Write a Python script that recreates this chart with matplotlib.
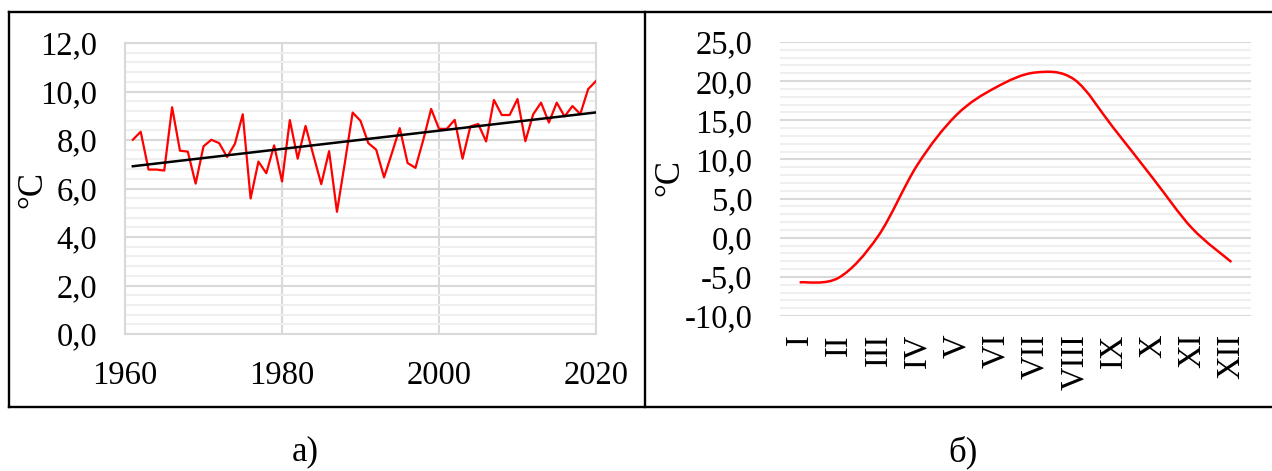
import numpy as np
import matplotlib.pyplot as plt
from matplotlib.path import Path
from matplotlib.patches import PathPatch
from matplotlib.ticker import MultipleLocator, FuncFormatter

plt.rcParams['font.family'] = ['Liberation Serif', 'DejaVu Serif']

# annual mean temperature, 1961-2020
years = list(range(1961, 2021))
t_year = [8.01, 8.34, 6.78, 6.78, 6.74, 9.35, 7.56, 7.52, 6.20, 7.74,
          8.01, 7.87, 7.30, 7.84, 9.06, 5.59, 7.11, 6.63, 7.78, 6.29,
          8.82, 7.23, 8.58, 7.37, 6.18, 7.54, 5.04, 7.05, 9.13, 8.79,
          7.87, 7.60, 6.46, 7.46, 8.49, 7.05, 6.85, 8.01, 9.28, 8.46,
          8.46, 8.83, 7.23, 8.56, 8.66, 7.94, 9.65, 9.03, 9.03, 9.69,
          7.95, 9.06, 9.54, 8.72, 9.54, 8.97, 9.40, 9.07, 10.10, 10.43]

# mean monthly temperature
months = ['I', 'II', 'III', 'IV', 'V', 'VI', 'VII', 'VIII', 'IX', 'X', 'XI', 'XII']
t_month = [-5.7, -5.1, 0.2, 9.3, 15.7, 19.2, 21.1, 20.2, 14.0, 7.6, 1.2, -3.1]

W, H = 1272, 471
fig = plt.figure(figsize=(W / 100, H / 100), dpi=100)

comma = FuncFormatter(lambda v, p: f'{v:.1f}'.replace('.', ','))
fs = 23.5
major_c, minor_c = '#d9d9d9', '#efefef'

# ---- left panel
ax1 = fig.add_axes([125 / W, 1 - 334 / H, 471 / W, 291 / H])
ax1.plot(years, t_year, color='red', lw=1.6, zorder=3)
k, b = np.polyfit(years, t_year, 1)
yy = np.array([years[0], years[-1]])
ax1.plot(yy, k * yy + b, color='black', lw=1.8, zorder=4)
ax1.set_xlim(1960, 2020)
ax1.set_ylim(0, 12)
ax1.xaxis.set_major_locator(MultipleLocator(20))
ax1.yaxis.set_major_locator(MultipleLocator(2))
ax1.yaxis.set_minor_locator(MultipleLocator(0.4))
ax1.yaxis.set_major_formatter(comma)
ax1.grid(which='major', color=major_c, lw=1.5)
ax1.grid(which='minor', axis='y', color=minor_c, lw=1.5)
ax1.set_axisbelow(True)
for s in ax1.spines.values():
    s.set_color(major_c)
    s.set_linewidth(1.5)
ax1.tick_params(which='both', length=0, labelsize=fs)
ax1.tick_params(axis='y', pad=20)
ax1.tick_params(axis='x', pad=19)

# ---- right panel
ax2 = fig.add_axes([780 / W, 1 - 316 / H, 471 / W, 274 / H])
x = np.arange(len(months))
y = np.array(t_month, dtype=float)
# smoothed line (Bezier through the points, like a spreadsheet "smooth line")
xp = np.concatenate([[x[0]], x, [x[-1]]])
yp = np.concatenate([[y[0]], y, [y[-1]]])
verts = [(x[0], y[0])]
codes = [Path.MOVETO]
for i in range(len(x) - 1):
    j = i + 1
    c1 = (xp[j] + (xp[j + 1] - xp[j - 1]) / 6, yp[j] + (yp[j + 1] - yp[j - 1]) / 6)
    c2 = (xp[j + 1] - (xp[j + 2] - xp[j]) / 6, yp[j + 1] - (yp[j + 2] - yp[j]) / 6)
    verts += [c1, c2, (x[j], y[j])]
    codes += [Path.CURVE4] * 3
ax2.add_patch(PathPatch(Path(verts, codes), fill=False, edgecolor='red', lw=1.8, zorder=3))
ax2.set_xlim(-0.5, len(months) - 0.5)
ax2.set_ylim(-10, 25)
ax2.set_xticks(x)
ax2.set_xticklabels(months, rotation=90, va='top')
ax2.yaxis.set_major_locator(MultipleLocator(5))
ax2.yaxis.set_minor_locator(MultipleLocator(1))
ax2.yaxis.set_major_formatter(comma)
ax2.grid(which='major', axis='y', color=major_c, lw=1.5)
ax2.grid(which='minor', axis='y', color=minor_c, lw=1.5)
ax2.set_axisbelow(True)
for s in ax2.spines.values():
    s.set_visible(False)
ax2.tick_params(which='both', length=0, labelsize=fs)
ax2.tick_params(axis='y', pad=20)
ax2.tick_params(axis='x', pad=13)

# y labels
fig.text(33 / W, 1 - 190 / H, '°C', rotation=90, ha='center', va='center', fontsize=25)
fig.text(670 / W, 1 - 178 / H, '°C', rotation=90, ha='center', va='center', fontsize=25)

# frame around panels
fx = lambda px: px / W
fy = lambda py: 1 - py / H
lk = dict(color='black', lw=1.7, transform=fig.transFigure, clip_on=False)
fig.add_artist(plt.Line2D([fx(9), fx(1272)], [fy(12), fy(12)], **lk))
fig.add_artist(plt.Line2D([fx(9), fx(1272)], [fy(407), fy(407)], **lk))
fig.add_artist(plt.Line2D([fx(9), fx(9)], [fy(12), fy(407)], **lk))
fig.add_artist(plt.Line2D([fx(645), fx(645)], [fy(12), fy(407)], **lk))

fig.text(305 / W, 1 - 452 / H, 'а)', ha='center', va='center', fontsize=25)
fig.text(963 / W, 1 - 452 / H, 'б)', ha='center', va='center', fontsize=25)

fig.savefig('out.png', dpi=100)
